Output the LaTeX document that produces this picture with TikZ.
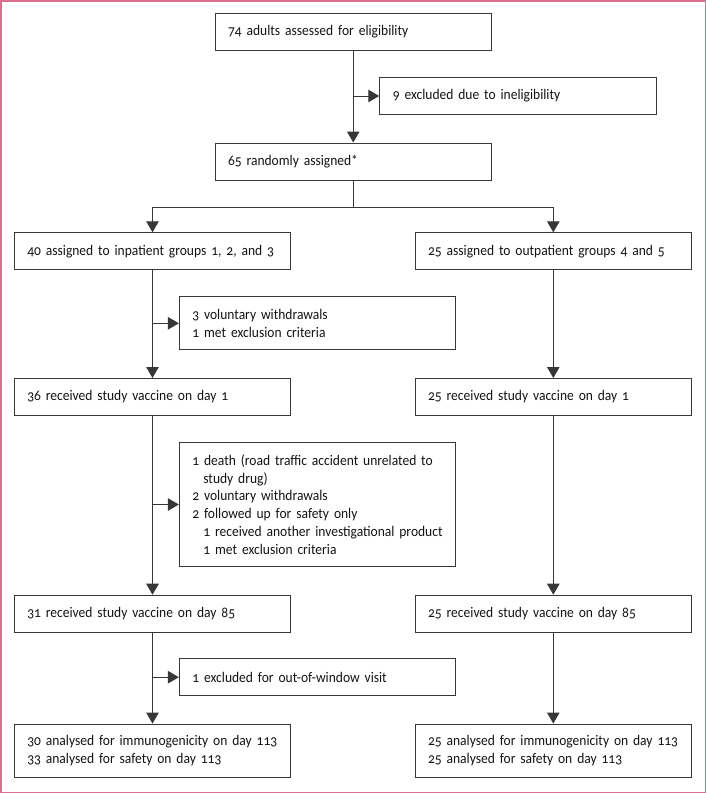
\documentclass[tikz,border=0pt]{standalone}
\usepackage{fontspec}
\setmainfont{Carlito}[Numbers=OldStyle, FakeStretch=0.92]
\usetikzlibrary{arrows.meta}
\definecolor{pinkframe}{RGB}{217,112,142}
\definecolor{boxline}{RGB}{55,55,55}
\definecolor{txt}{RGB}{20,20,20}
\begin{document}
\begin{tikzpicture}[x=1pt,y=-1pt,
  flowbox/.style={draw=boxline, line width=1pt, text=txt, inner xsep=13pt, inner ysep=0pt,
    text width=#1, minimum height=37pt, align=left,
    font={\fontsize{14.7}{17.8}\selectfont\hyphenpenalty=10000}},
  flowbox/.default=250.5pt,
  conn/.style={draw=boxline, line width=1pt},
  arr/.style={conn, -{Triangle[length=11pt,width=12.5pt]}}
]
\useasboundingbox (0,0) rectangle (706,793);
\draw[pinkframe, line width=1.5pt] (0.75,0.75) rectangle (705.25,792.25);

\node[flowbox] (a74) at (353.25,32) {74 adults assessed for eligibility};
\node[flowbox] (ex9) at (518,96) {9 excluded due to ineligibility};
\node[flowbox] (r65) at (353.25,161.5) {65 randomly assigned*};

\node[flowbox] (in40) at (152.5,251.3) {40 assigned to inpatient groups 1, 2, and 3};
\node[flowbox] (out25) at (553.3,251.3) {25 assigned to outpatient groups 4 and 5};

\node[flowbox, minimum height=53.3pt] (ex3) at (317.6,323.3) {3 voluntary withdrawals\\1 met exclusion criteria};

\node[flowbox] (in36) at (152.5,397) {36 received study vaccine on day 1};
\node[flowbox] (out25b) at (553.3,397) {25 received study vaccine on day 1};

\node[flowbox, minimum height=124.4pt] (ex1) at (317.6,504.5) {1 death (road traffic accident unrelated to\\\hspace*{11pt}study drug)\\2 voluntary withdrawals\\2 followed up for safety only\\\hspace*{11pt}1 received another investigational product\\\hspace*{11pt}1 met exclusion criteria};

\node[flowbox] (in31) at (152.5,613.7) {31 received study vaccine on day 85};
\node[flowbox] (out25c) at (553.3,613.7) {25 received study vaccine on day 85};

\node[flowbox] (ex1w) at (317.6,677.2) {1 excluded for out-of-window visit};

\node[flowbox, minimum height=53.3pt] (in30) at (152.5,750.7) {30 analysed for immunogenicity on day 113\\33 analysed for safety on day 113};
\node[flowbox, minimum height=53.3pt] (out25d) at (553.3,750.7) {25 analysed for immunogenicity on day 113\\25 analysed for safety on day 113};

% connectors
\draw[arr] (a74.south) -- (r65.north);
\draw[arr] (a74.south |- ex9.west) -- (ex9.west);

\coordinate (br) at ([yshift=-26.7pt]r65.south);
\draw[conn] (r65.south) -- (br);
\draw[arr] (br) -| (in40.north);
\draw[arr] (br) -| (out25.north);

\draw[arr] (in40.south) -- (in36.north);
\draw[arr] (in40.south |- ex3.west) -- (ex3.west);
\draw[arr] (in36.south) -- (in31.north);
\draw[arr] (in36.south |- ex1.west) -- (ex1.west);
\draw[arr] (in31.south) -- (in30.north);
\draw[arr] (in31.south |- ex1w.west) -- (ex1w.west);

\draw[arr] (out25.south) -- (out25b.north);
\draw[arr] (out25b.south) -- (out25c.north);
\draw[arr] (out25c.south) -- (out25d.north);
\end{tikzpicture}
\end{document}
